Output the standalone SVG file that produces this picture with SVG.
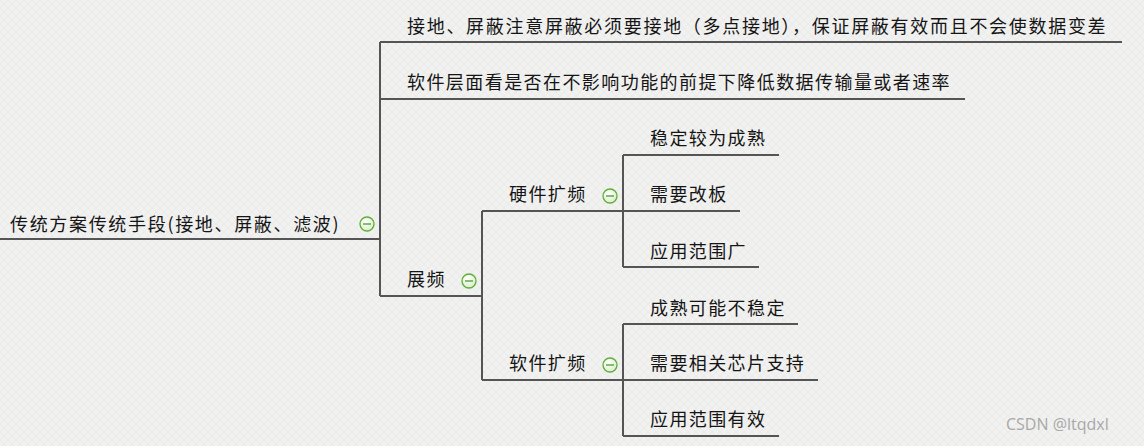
<svg xmlns="http://www.w3.org/2000/svg" width="1144" height="446" viewBox="0 0 1144 446">
<defs>
<pattern id="tex" width="8" height="8" patternUnits="userSpaceOnUse">
<rect width="8" height="8" fill="#f1f1f0"/>
<path d="M0 8 L8 0 M0 0 L8 8" stroke="#e6e6e5" stroke-width="0.6"/>
</pattern>
<radialGradient id="cg" cx="0.4" cy="0.35" r="0.7">
<stop offset="0" stop-color="#ffffff"/>
<stop offset="1" stop-color="#d8edc8"/>
</radialGradient>
<g id="tog">
<circle r="7" fill="url(#cg)" stroke="#5fae3a" stroke-width="1.3"/>
<line x1="-4" y1="0" x2="4" y2="0" stroke="#4c9a2a" stroke-width="1.3"/>
</g>
</defs>
<style>
.t{font-family:"Noto Sans CJK SC","Microsoft YaHei",sans-serif;font-size:18px;letter-spacing:1.4px;fill:#151515}
.c{fill:none;stroke:#555;stroke-width:2}
.wm{font-family:"Open Sans","Noto Sans",sans-serif;font-size:16px;fill:#a8a8a8}
</style>
<rect width="1144" height="446" fill="url(#tex)"/>
<g id="connectors" class="c">
<path d="M0 239 H380 M380 42 V296 M380 42 H1122 M380 99 H965 M380 296 H482"/>
<path d="M482 211 V380 M482 211 H740 M482 380 H818"/>
<path d="M623 155 V267 M623 155 H779 M623 267 H759"/>
<path d="M623 324 V436 M623 324 H798 M623 436 H779"/>
</g>
<g id="root"><text class="t" x="10" y="231" textLength="330">传统方案传统手段(接地、屏蔽、滤波)</text><use href="#tog" x="367" y="224"/></g>
<g id="n1"><text class="t" x="407" y="33" textLength="700">接地、屏蔽注意屏蔽必须要接地（多点接地），保证屏蔽有效而且不会使数据变差</text></g>
<g id="n2"><text class="t" x="407" y="89" textLength="544">软件层面看是否在不影响功能的前提下降低数据传输量或者速率</text></g>
<g id="n3"><text class="t" x="407" y="286">展频</text><use href="#tog" x="469" y="281"/></g>
<g id="n4"><text class="t" x="509" y="201">硬件扩频</text><use href="#tog" x="610" y="196"/></g>
<g id="n5"><text class="t" x="509" y="370">软件扩频</text><use href="#tog" x="610" y="365"/></g>
<g id="n6"><text class="t" x="650" y="145">稳定较为成熟</text></g>
<g id="n7"><text class="t" x="650" y="201">需要改板</text></g>
<g id="n8"><text class="t" x="650" y="258">应用范围广</text></g>
<g id="n9"><text class="t" x="650" y="315">成熟可能不稳定</text></g>
<g id="n10"><text class="t" x="650" y="370">需要相关芯片支持</text></g>
<g id="n11"><text class="t" x="650" y="426">应用范围有效</text></g>
<text class="wm" x="1006" y="430">CSDN @ltqdxl</text>
</svg>
